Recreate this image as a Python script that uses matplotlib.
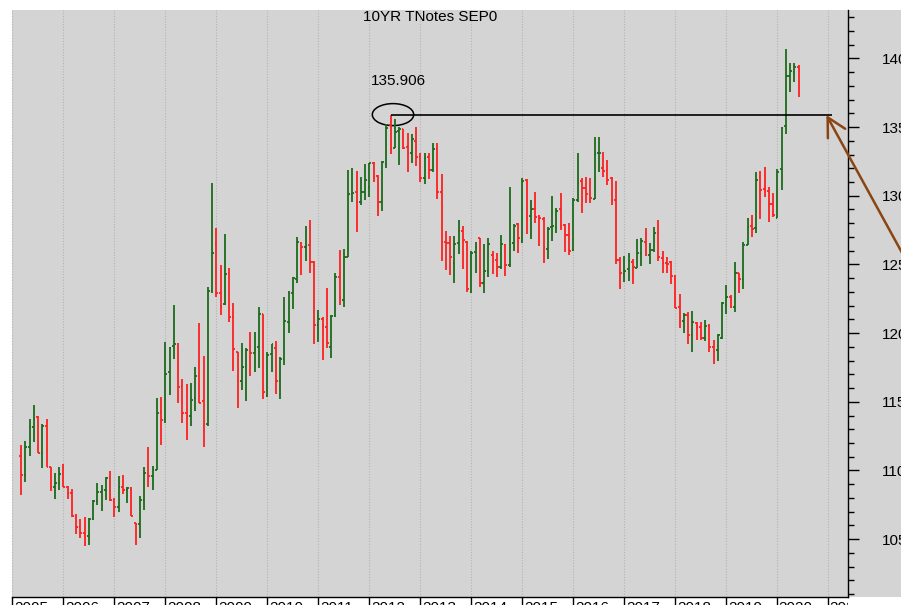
import matplotlib
matplotlib.use('Agg')
import matplotlib.pyplot as plt
from matplotlib.patches import Ellipse, Rectangle
from matplotlib.ticker import MultipleLocator
from matplotlib.transforms import Bbox, TransformedBbox

plt.rcParams['font.family'] = ['Liberation Sans', 'DejaVu Sans']

# monthly bars, first one is March 2005 (month index counted from Jan 2005)
first_month = 2

highs = [111.86, 112.17, 113.75, 114.77, 113.97, 113.36, 113.72, 110.23, 109.84, 110.23,
         110.47, 108.90, 108.65, 106.84, 106.50, 106.59, 106.52, 107.85, 109.07, 108.97, 109.55, 109.94,
         107.97, 109.60, 109.67, 108.78, 108.82, 106.16, 108.14, 110.23, 111.69, 110.30, 115.25, 115.32,
         119.38, 119.01, 122.04, 119.25, 116.63, 116.30, 116.34, 117.51, 120.76, 118.33, 123.38, 130.90,
         127.62, 124.93, 127.19, 124.76, 122.21, 118.65, 119.25, 118.89, 120.10, 120.10, 121.87, 121.39,
         118.65, 119.21, 119.45, 118.24, 122.66, 123.09, 124.10, 127.02, 126.66, 127.80, 128.24, 125.28,
         121.69, 121.15, 123.26, 121.32, 124.35, 126.05, 126.10, 131.88, 132.00, 131.83, 131.39, 132.30,
         132.41, 132.48, 131.51, 132.55, 135.22, 135.906, 135.55, 134.98, 134.84, 134.54, 134.49, 134.98,
         133.08, 133.08, 133.08, 133.81, 133.86, 131.58, 127.46, 127.07, 127.07, 128.23, 127.80, 126.73,
         126.00, 126.66, 126.90, 126.49, 126.90, 126.00, 125.85, 127.14, 126.49, 130.61, 127.94, 128.00,
         131.26, 131.19, 129.69, 130.29, 128.60, 128.43, 127.75, 129.98, 129.08, 130.17, 127.94, 127.99,
         129.81, 133.13, 131.26, 131.34, 131.26, 134.25, 134.25, 133.21, 132.60, 131.34, 131.09, 125.51,
         125.61, 125.85, 125.37, 126.82, 126.90, 127.63, 126.53, 127.75, 128.23, 126.00, 125.56, 125.27,
         124.23, 122.84, 121.49, 121.56, 121.63, 120.83, 120.83, 120.95, 120.66, 119.50, 119.93, 122.29,
         123.50, 122.77, 125.20, 124.40, 126.65, 128.35, 128.59, 131.75, 131.82, 132.11, 130.66, 130.17,
         131.92, 134.97, 140.65, 139.63, 139.63, 139.51]

lows = [108.22, 109.19, 111.06, 112.10, 111.30, 110.16, 110.23, 108.51, 107.95, 108.58,
        108.78, 107.93, 106.64, 105.36, 105.09, 104.51, 104.58, 106.40, 107.49, 107.08, 107.85, 107.81,
        106.64, 107.00, 108.29, 107.61, 106.69, 104.58, 105.06, 107.13, 108.78, 108.60, 110.00, 111.86,
        113.43, 115.49, 118.09, 114.94, 113.43, 112.22, 113.24, 114.35, 114.89, 111.73, 113.24, 122.94,
        122.60, 121.32, 122.04, 120.78, 117.24, 114.57, 115.86, 115.06, 116.88, 117.19, 117.44, 115.18,
        115.37, 117.19, 115.57, 115.18, 117.68, 119.99, 121.73, 123.68, 124.23, 125.28, 124.35, 119.21,
        119.38, 118.05, 118.90, 118.17, 121.20, 122.05, 121.93, 125.57, 129.57, 127.39, 129.33, 129.69,
        129.93, 131.03, 128.53, 128.92, 132.00, 133.04, 133.45, 132.24, 133.38, 131.75, 132.36, 132.16,
        131.02, 130.85, 131.19, 131.75, 129.74, 125.27, 124.59, 124.23, 123.62, 125.76, 124.64, 123.02,
        122.94, 124.35, 123.38, 122.94, 124.11, 124.30, 124.06, 124.64, 124.16, 124.84, 126.00, 125.81,
        126.58, 127.21, 126.82, 127.99, 126.34, 125.08, 125.37, 126.73, 127.26, 127.50, 125.93, 125.68,
        126.00, 129.57, 128.72, 129.49, 129.44, 129.74, 131.75, 131.38, 130.78, 129.32, 125.03, 123.19,
        123.74, 123.82, 123.57, 124.71, 124.88, 125.61, 125.03, 125.93, 125.27, 124.40, 124.40, 123.57,
        121.80, 120.35, 119.98, 119.21, 118.65, 119.50, 119.50, 119.45, 118.65, 117.75, 117.99, 119.54,
        121.39, 121.80, 121.56, 122.89, 123.18, 126.41, 126.97, 127.31, 128.28, 129.88, 128.11, 128.47,
        128.35, 130.41, 134.46, 137.57, 138.30, 137.21]

opens = [111.06, 109.67, 111.69, 113.19, 113.90, 111.30, 113.24, 110.23, 108.82, 109.12,
         109.75, 108.78, 108.34, 106.69, 105.91, 105.43, 105.23, 106.45, 107.80, 108.46, 108.58, 109.46,
         107.85, 107.32, 108.82, 108.58, 108.75, 106.16, 106.10, 107.85, 109.84, 109.60, 110.00, 114.28,
         113.72, 117.18, 119.06, 119.20, 116.15, 114.16, 114.00, 115.30, 116.90, 115.03, 113.36, 123.06,
         126.48, 122.94, 122.09, 124.35, 121.20, 118.60, 116.54, 117.56, 118.70, 118.58, 118.96, 121.39,
         115.42, 118.48, 118.89, 116.54, 118.10, 120.84, 122.95, 123.92, 126.59, 126.25, 126.39, 125.16,
         120.59, 121.00, 120.47, 118.97, 121.27, 124.10, 122.41, 125.57, 130.13, 130.30, 129.57, 130.30,
         130.60, 132.36, 131.44, 129.57, 132.30, 135.15, 133.45, 134.74, 134.84, 133.52, 133.08, 134.01,
         132.84, 131.26, 132.79, 131.87, 133.38, 130.29, 126.66, 126.53, 125.08, 126.58, 127.46, 126.66,
         123.02, 125.93, 126.90, 123.67, 124.54, 125.68, 125.32, 124.84, 126.41, 124.93, 126.53, 127.94,
         126.73, 131.14, 128.52, 129.01, 128.52, 128.28, 126.10, 127.70, 127.63, 129.01, 127.87, 127.14,
         126.05, 129.69, 131.09, 130.54, 130.05, 129.74, 133.08, 132.00, 131.87, 131.26, 129.69, 125.32,
         124.30, 124.64, 125.20, 124.71, 125.85, 126.66, 125.68, 126.05, 127.31, 125.44, 125.08, 125.20,
         124.15, 121.87, 120.90, 121.32, 119.86, 120.76, 120.42, 119.62, 120.51, 119.01, 118.77, 119.62,
         122.04, 122.65, 121.92, 124.35, 123.91, 126.41, 127.79, 127.62, 131.33, 130.46, 130.36, 129.39,
         128.35, 131.92, 135.07, 138.71, 139.03, 139.34]

closes = [109.67, 111.69, 113.19, 113.73, 111.30, 113.24, 110.28, 108.82, 109.12, 109.75,
          108.78, 108.34, 106.69, 105.91, 105.43, 105.23, 106.45, 107.80, 108.46, 108.58, 109.46, 107.85,
          107.32, 108.82, 108.58, 108.75, 106.69, 106.10, 107.85, 109.84, 109.60, 110.00, 114.21, 113.67,
          117.02, 118.89, 119.20, 116.05, 114.21, 114.00, 115.13, 116.90, 114.89, 113.36, 123.06, 125.85,
          122.89, 121.87, 124.28, 121.20, 118.84, 116.54, 117.56, 118.77, 118.58, 118.84, 121.39, 115.69,
          118.41, 119.18, 116.54, 118.11, 120.90, 122.90, 123.99, 126.60, 126.25, 126.34, 125.16, 120.59,
          121.00, 120.55, 119.26, 121.27, 124.10, 122.54, 125.57, 130.13, 130.20, 129.57, 130.30, 131.15,
          132.36, 131.40, 129.57, 132.48, 134.90, 133.38, 134.67, 134.84, 133.45, 133.14, 134.10, 132.84,
          131.26, 132.72, 131.87, 133.38, 130.29, 126.66, 126.53, 125.51, 126.49, 127.46, 126.78, 123.19,
          125.85, 126.24, 123.67, 124.54, 126.49, 125.27, 124.79, 126.49, 124.93, 126.49, 127.80, 126.90,
          131.09, 128.52, 129.01, 128.47, 128.35, 126.29, 127.55, 127.80, 128.91, 127.80, 127.14, 126.00,
          129.69, 130.95, 130.54, 130.12, 129.81, 133.04, 133.13, 131.82, 131.14, 129.69, 125.32, 124.40,
          124.50, 125.27, 124.84, 125.85, 126.73, 125.68, 126.05, 127.31, 125.51, 125.12, 125.03, 124.15,
          121.80, 120.90, 121.32, 119.86, 120.83, 120.42, 119.62, 120.51, 119.01, 118.65, 119.86, 122.21,
          122.65, 121.92, 124.40, 123.91, 126.41, 127.70, 127.60, 131.14, 130.41, 130.36, 129.39, 128.59,
          131.75, 134.90, 138.71, 139.10, 139.34, 139.20]

year_labels = ['2005', '2006', '2007', '2008', '2009', '2010', '2011', '2012', '2013',
               '2014', '2015', '2016', '2017', '2018', '2019', '2020', '2021']
price_ticks = [105, 110, 115, 120, 125, 130, 135, 140]

peak_month = 89
peak_value = 135.906

up_color = '#1c6a1c'
down_color = '#ff2020'
bg = '#d4d4d4'

W, H = 901, 605
fig = plt.figure(figsize=(W / 100, H / 100), dpi=100)
fig.patch.set_facecolor('white')
ax = fig.add_axes([12 / W, 8 / H, 836 / W, 587 / H])
ax.set_facecolor(bg)
# the grey panel continues behind the price scale
fig.patches.append(Rectangle((848 / W, 8 / H), 53 / W, 587 / H, transform=fig.transFigure,
                             facecolor=bg, edgecolor='none', zorder=-1))

for i, (o, h, l, c) in enumerate(zip(opens, highs, lows, closes)):
    x = first_month + i + 0.12
    col = up_color if c >= o else down_color
    ax.vlines(x, l, h, color=col, lw=1.3)
    ax.hlines(o, x - 0.4, x, color=col, lw=1.3)
    ax.hlines(c, x, x + 0.4, color=col, lw=1.3)

ax.set_xlim(1.425, 196.75)
ax.set_ylim(100.79, 143.52)

# x axis: year boundaries
year_pos = [12 * k for k in range(len(year_labels))]
ax.set_xticks(year_pos)
ax.set_xticklabels([])
ax.tick_params(axis='x', direction='out', length=10, width=1, color='black')
ax.grid(axis='x', color='#b3b3b3', linestyle=(0, (1, 1.5)), lw=0.8)
ax.set_axisbelow(True)
clip = TransformedBbox(Bbox.from_extents(12 / W, 0, 848 / W, 1), fig.transFigure)
for pos, lab in zip(year_pos, year_labels):
    t = fig.text(pos + 0.45, -0.007, lab, transform=ax.get_xaxis_transform(),
                 ha='left', va='top', fontsize=11)
    t.set_clip_box(clip)
    t.set_clip_on(True)

# y axis on the right
ax.yaxis.tick_right()
ax.set_yticks(price_ticks)
ax.yaxis.set_minor_locator(MultipleLocator(1))
ax.tick_params(axis='y', which='major', direction='out', length=8, width=1, pad=16.5, labelsize=11)
ax.tick_params(axis='y', which='minor', direction='out', length=4.3, width=1)

for s in ['left', 'top']:
    ax.spines[s].set_visible(False)
for s in ['right', 'bottom']:
    ax.spines[s].set_color('black')
    ax.spines[s].set_linewidth(1)

ax.text(0.5, 0.988, '10YR TNotes SEP0', transform=ax.transAxes, ha='center', va='center', fontsize=11)

# peak annotation
ax.text(peak_month + 1.9, 138.35, f'{peak_value:.3f}', ha='center', va='center', fontsize=11)
ax.add_patch(Ellipse((peak_month + 0.67, peak_value), width=9.74, height=1.6,
                     fill=False, edgecolor='black', lw=1.1))
ax.hlines(peak_value, peak_month + 0.1, 193.1, color='black', lw=1.2)
ax.annotate('', xy=(191.66, peak_value - 0.03), xytext=(67, -122), textcoords='offset points',
            arrowprops=dict(arrowstyle='->,head_length=1.33,head_width=0.71', color='#8b4513',
                            lw=1.8, mutation_scale=10, shrinkA=0, shrinkB=0),
            annotation_clip=False)

fig.savefig('out.png', dpi=100, facecolor='white')
